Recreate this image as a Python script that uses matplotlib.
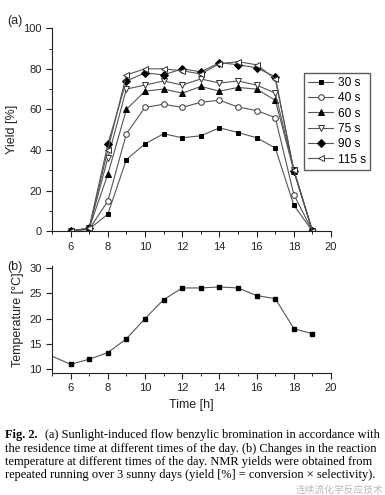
import matplotlib
matplotlib.use("Agg")
import matplotlib.pyplot as plt
from matplotlib.ticker import MultipleLocator

plt.rcParams['font.family'] = ['Liberation Sans', 'DejaVu Sans']

# (a) yield vs time of day for each residence time
hours = [6, 7, 8, 9, 10, 11, 12, 13, 14, 15, 16, 17, 18, 19]
y30 = [0, 1, 8.4, 35.3, 43, 48, 46, 47, 50.9, 48.6, 46, 41, 12.7, 0]
y40 = [0, 1, 14.8, 48, 61, 62.5, 61, 63.5, 64.5, 61.2, 59.4, 56, 18, 0]
y60 = [0, 1.5, 28, 60, 69, 70, 68, 71.3, 69, 70.8, 70, 64.5, 29.7, 0]
y75 = [0, 1.5, 36, 70, 72, 74, 72, 75, 73, 74, 72, 68, 30, 0]
y90 = [0, 1.5, 42.8, 74, 78, 77, 80, 78.5, 83, 82, 80.5, 76, 29.5, 0]
y115 = [0, 1.5, 40, 77, 80, 80, 79, 77.5, 82.5, 83.5, 82, 75, 30, 0]
labels = ['30 s', '40 s', '60 s', '75 s', '90 s', '115 s']

# (b) reaction temperature
t_hours = [5, 6, 7, 8, 9, 10, 11, 12, 13, 14, 15, 16, 17, 18, 19]
temps = [12.6, 11, 12, 13.3, 16, 20, 23.7, 26, 26, 26.2, 26, 24.5, 23.9, 18, 17]

cap_first = "(a) Sunlight-induced flow benzylic bromination in accordance with"
cap_rest = ("the residence time at different times of the day. (b) Changes in the reaction\n"
            "temperature at different times of the day. NMR yields were obtained from\n"
            "repeated running over 3 sunny days (yield [%] = conversion \u00d7 selectivity).")

fig = plt.figure(figsize=(3.85, 4.95), dpi=100)
ax1 = fig.add_axes([0.135, 0.533, 0.725, 0.410])
ax2 = fig.add_axes([0.135, 0.2465, 0.725, 0.216])

lc = '#555555'
styles = [
    dict(marker='s', mfc='k', mec='k', ms=3.5),
    dict(marker='o', mfc='white', mec='#333333', ms=4),
    dict(marker='^', mfc='k', mec='k', ms=4.5),
    dict(marker='v', mfc='white', mec='#333333', ms=4.5),
    dict(marker='D', mfc='k', mec='k', ms=4),
    dict(marker='<', mfc='white', mec='#333333', ms=4.5),
]
for vals, lab, st in zip([y30, y40, y60, y75, y90, y115], labels, styles):
    ax1.plot(hours, vals, color=lc, lw=0.8, label=lab, mew=0.7, **st)

ax1.set_xlim(5, 20)
ax1.set_ylim(0, 100)
ax1.set_ylabel('Yield [%]', fontsize=9, color='#222222')
ax1.yaxis.set_major_locator(MultipleLocator(20))
ax1.yaxis.set_minor_locator(MultipleLocator(10))

fig.legend(loc='upper left', bbox_to_anchor=(0.79, 0.853), borderaxespad=0,
           fontsize=8.6, frameon=True, fancybox=False, edgecolor='#333333',
           handlelength=2.1, borderpad=0.35, labelspacing=0.28, handletextpad=0.4)

ax2.plot(t_hours, temps, color=lc, lw=0.8, marker='s', mfc='k', mec='k', ms=3.5,
         markevery=list(range(1, len(t_hours))))
ax2.set_xlim(5, 20)
ax2.set_ylim(9.3, 30.3)
ax2.set_ylabel('Temperature [\u00b0C]', fontsize=9, color='#222222')
ax2.set_xlabel('Time [h]', fontsize=9, color='#222222')
ax2.yaxis.set_major_locator(MultipleLocator(5))

for ax in (ax1, ax2):
    ax.spines['top'].set_visible(False)
    ax.spines['right'].set_visible(False)
    ax.spines['left'].set_color('#222222')
    ax.spines['bottom'].set_color('#222222')
    ax.xaxis.set_major_locator(MultipleLocator(2))
    ax.xaxis.set_minor_locator(MultipleLocator(1))
    ax.tick_params(which='major', direction='out', length=4, width=0.8,
                   labelsize=8, colors='#222222')
    ax.tick_params(which='minor', direction='out', length=2, width=0.7, colors='#222222')

fig.text(0.02, 0.952, '(a)', fontsize=9, color='#222222')
fig.text(0.02, 0.455, '(b)', fontsize=9, color='#222222')

# caption
fig.text(0.013, 0.133, 'Fig. 2.', fontsize=8.9, fontweight='bold',
         family='Liberation Serif', va='top')
fig.text(0.118, 0.133, cap_first, fontsize=8.9, family='Liberation Serif', va='top')
fig.text(0.013, 0.105, cap_rest, fontsize=8.9, family='Liberation Serif', va='top',
         linespacing=1.12)
fig.text(0.995, 0.0, '\u8fde\u7eed\u6d41\u5316\u5b66\u53cd\u5e94\u6280\u672f',
         fontsize=7, color='#aaaaaa', ha='right', va='bottom',
         family=['Noto Sans CJK SC', 'DejaVu Sans'], alpha=0.8)

fig.savefig('out.png', dpi=100)
